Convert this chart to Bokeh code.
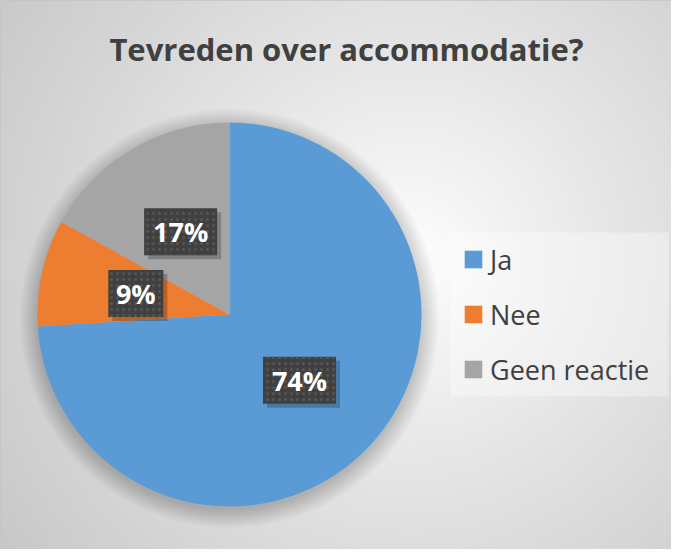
import numpy as np
from bokeh.plotting import figure
from bokeh.models import Range1d, Legend, LegendItem, ColumnDataSource
from bokeh.core.properties import value
from bokeh.embed import file_html
from bokeh.resources import INLINE

# ---- data ----
categories = ["Ja", "Nee", "Geen reactie"]
percentages = [74, 9, 17]
colors = ["#5B9BD5", "#ED7D31", "#A5A5A5"]
title_text = "Tevreden over accommodatie?"

FONT = "Open Sans"
W, H = 671, 549
p = figure(width=W, height=H, output_backend="svg", toolbar_location=None,
           x_range=Range1d(0, W), y_range=Range1d(0, H), min_border=0,
           x_axis_type=None, y_axis_type=None)
p.grid.visible = False
p.outline_line_color = "#c4c4c4"
p.background_fill_color = "#e0e0e0"
p.border_fill_color = "#e0e0e0"

# ---- background radial gradient (ref-pixel coordinates, y down) ----
gx, gy = np.meshgrid(np.arange(W) + 0.5, H - (np.arange(H) + 0.5))
cxg, cyg = 410.0, 260.0
r = np.sqrt((gx - cxg) ** 2 + (gy - cyg) ** 2)
lum = 255 - 45 * (r / 400.0) ** 0.9
lum = np.clip(lum, 198, 255).astype(np.uint32)
img = (np.uint32(255) << 24) | (lum << 16) | (lum << 8) | lum
p.image_rgba(image=[img.astype(np.uint32)], x=0, y=0, dw=W, dh=H)

# ---- pie geometry ----
cx, cy, R = 229, H - 314, 192
vals = np.array(percentages, dtype=float)
frac = vals / vals.sum()
cum = np.concatenate([[0], np.cumsum(frac)])
starts = np.pi / 2 - 2 * np.pi * cum[:-1]
ends = np.pi / 2 - 2 * np.pi * cum[1:]

# soft shadow
for k in range(16):
    p.circle(x=[cx], y=[cy - 4], radius=R + 18 - k * 1.2, fill_color="black",
             fill_alpha=0.012, line_color=None)

src = ColumnDataSource(dict(cat=categories, start=starts, end=ends, color=colors))
wedges = p.wedge(x=cx, y=cy, radius=R, start_angle="start", end_angle="end",
                 direction="clock", fill_color="color", line_color=None, source=src)

# ---- data labels ----
mid = (starts + ends) / 2
lx = cx + 0.5 * R * np.cos(mid)
ly = cy + 0.5 * R * np.sin(mid)
texts = [f"{v}%" for v in percentages]
bw = [19 + 18 * len(t) for t in texts]
lsrc = ColumnDataSource(dict(x=lx, y=ly, sx=lx + 4, sy=ly - 4, t=texts, w=bw))
p.rect(x="sx", y="sy", width="w", height=47, width_units="screen", height_units="screen",
       source=lsrc, fill_color="black", fill_alpha=0.22, line_color=None)
p.rect(x="x", y="y", width="w", height=47, width_units="screen", height_units="screen",
       source=lsrc, fill_color="#404040", line_color=None,
       hatch_pattern="dot", hatch_color="#555555", hatch_scale=6, hatch_weight=1.5)
p.text(x="x", y="y", text="t", source=lsrc, text_color="white", text_font=value(FONT),
       text_font_style="bold", text_font_size="27px", text_align="center",
       text_baseline="middle")

# ---- title ----
p.text(x=[346], y=[H - 48], text=[title_text], text_color="#404040", text_font=value(FONT),
       text_font_style="bold", text_font_size="31px", text_align="center",
       text_baseline="middle")

# ---- legend box ----
p.rect(x=[559], y=[H - 314], width=218, height=164, fill_color="white",
       fill_alpha=0.35, line_color=None)

# ---- legend ----
items = [LegendItem(label=c, renderers=[wedges], index=i) for i, c in enumerate(categories)]
legend = Legend(items=items, location=(462, H - 389), orientation="vertical",
                glyph_width=22, glyph_height=22, label_height=40, spacing=15,
                padding=12, margin=0, label_standoff=6,
                label_text_font=FONT, label_text_font_size="27px",
                label_text_color="#404040", label_text_baseline="middle",
                background_fill_alpha=0.0, border_line_color=None)
p.add_layout(legend)

open("out.html", "w").write(file_html(p, INLINE))
